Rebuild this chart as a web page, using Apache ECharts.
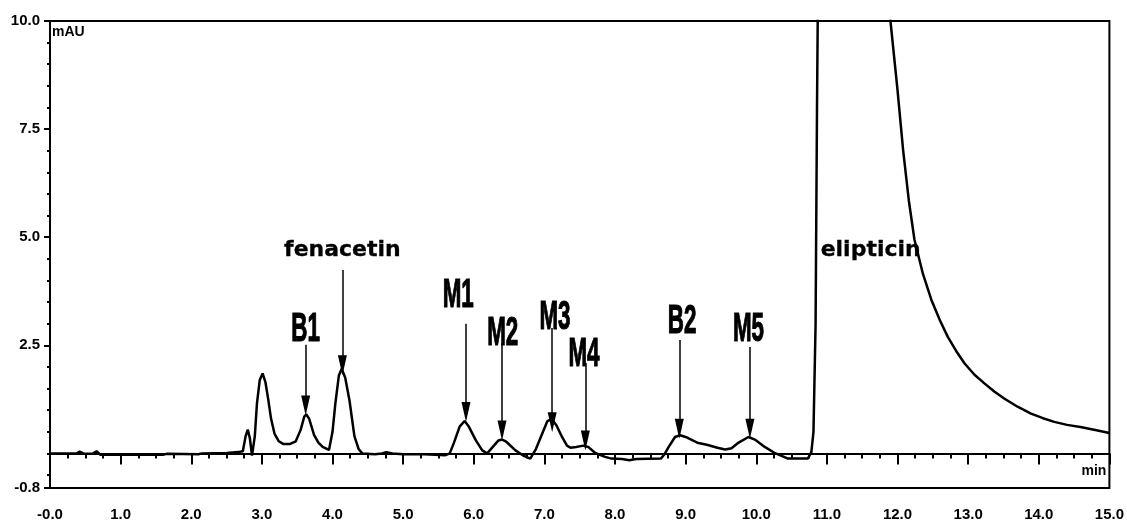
<!DOCTYPE html>
<html>
<head>
    <meta charset="utf-8"/>
    <title>chromatogram</title>
    <script src="https://cdn.jsdelivr.net/npm/echarts@6/dist/echarts.min.js"></script>
    <style>
        html, body { margin: 0; padding: 0; background: #fff; }
        #chart1 { width: 1127px; height: 524px; }
    </style>
</head>
<body>
<div id="chart1"></div>
<script type="text/javascript">
    // retention time (min) and signal (mAU)
    var times = [0.00, 0.30, 0.38, 0.42, 0.47, 0.60, 0.66, 0.71, 1.20, 1.60, 1.65, 2.10, 2.15, 2.50, 2.66,
        2.73, 2.77, 2.80, 2.83, 2.86, 2.88, 2.90, 2.93, 2.97, 3.01, 3.05, 3.09, 3.13, 3.18, 3.24, 3.30,
        3.40, 3.48, 3.55, 3.60, 3.63, 3.67, 3.74, 3.80, 3.86, 3.95, 4.00, 4.04, 4.09, 4.13, 4.18, 4.24,
        4.31, 4.37, 4.42, 4.60, 4.70, 4.76, 4.85, 5.00, 5.30, 5.60, 5.66, 5.72, 5.80, 5.87, 5.93, 6.03,
        6.12, 6.19, 6.27, 6.35, 6.40, 6.46, 6.59, 6.70, 6.80, 6.88, 6.97, 7.04, 7.10, 7.17, 7.25, 7.32,
        7.37, 7.45, 7.55, 7.62, 7.72, 7.86, 7.95, 8.10, 8.20, 8.30, 8.65, 8.70, 8.76, 8.85, 8.92, 9.00,
        9.10, 9.18, 9.30, 9.45, 9.56, 9.65, 9.75, 9.89, 9.98, 10.12, 10.25, 10.45, 10.73, 10.78, 10.81,
        10.84, 10.86, 10.88, 10.95, 11.35, 11.80, 11.90, 12.00, 12.08, 12.16, 12.24, 12.36, 12.48, 12.60,
        12.71, 12.83, 12.95, 13.09, 13.23, 13.37, 13.51, 13.70, 13.89, 14.05, 14.22, 14.40, 14.59, 14.80,
        15.00];
    var signal = [0.00, 0.00, 0.00, 0.04, 0.00, -0.01, 0.05, -0.03, -0.03, -0.03, -0.01, -0.02, 0.00, 0.01, 0.03,
        0.05, 0.40, 0.55, 0.35, -0.05, -0.09, 0.40, 1.15, 1.70, 1.85, 1.65, 1.25, 0.80, 0.45, 0.28, 0.22,
        0.22, 0.28, 0.55, 0.85, 0.90, 0.80, 0.42, 0.25, 0.15, 0.08, 0.50, 1.15, 1.80, 1.96, 1.75, 1.23,
        0.40, 0.10, 0.00, -0.02, 0.00, 0.03, 0.00, -0.02, -0.02, -0.04, 0.00, 0.25, 0.62, 0.75, 0.62, 0.30,
        0.07, 0.00, 0.15, 0.30, 0.32, 0.27, 0.07, -0.05, -0.12, 0.10, 0.46, 0.74, 0.80, 0.65, 0.38, 0.18,
        0.13, 0.15, 0.18, 0.15, 0.01, -0.08, -0.12, -0.13, -0.16, -0.13, -0.12, -0.02, 0.15, 0.38, 0.42, 0.38,
        0.30, 0.24, 0.20, 0.13, 0.09, 0.12, 0.25, 0.38, 0.32, 0.15, 0.02, -0.12, -0.12, 0.03, 0.50,
        3.00, 8.00, 12.0, 30.0, 60.0, 15.0, 10.0, 8.40, 7.00, 5.85, 4.94, 4.15, 3.55, 3.08,
        2.70, 2.37, 2.08, 1.82, 1.62, 1.43, 1.27, 1.08, 0.92, 0.82, 0.73, 0.66, 0.61, 0.54,
        0.47];

    // arrows pointing at the peaks
    var arrowX = [3.62, 4.14, 5.89, 6.40, 7.11, 7.58, 8.91, 9.91];
    var arrowTop = [2.51, 4.24, 3.00, 2.55, 2.90, 2.09, 2.62, 2.46];
    var arrowTip = [1.11, 2.04, 0.96, 0.53, 0.72, 0.30, 0.57, 0.57];

    // peak names and where their text sits
    var peakNames = ['B1', 'fenacetin', 'M1', 'M2', 'M3', 'M4', 'B2', 'M5', 'elipticin'];
    var labelX = [3.62, 4.14, 5.78, 6.41, 7.15, 7.56, 8.95, 9.89, 11.62];
    var labelY = [2.85, 4.70, 3.64, 2.76, 3.13, 2.27, 3.04, 2.85, 4.70];

    // axes
    var yLabelValues = [-0.8, 2.5, 5.0, 7.5, 10.0];
    var yMinorTicks = [-0.5, 0, 0.5, 1, 1.5, 2, 3, 3.5, 4, 4.5, 5.5, 6, 6.5, 7, 8, 8.5, 9, 9.5];

    var tickFont = '"Liberation Sans", Arial, sans-serif';
    var myChart1 = echarts.init(document.getElementById('chart1'));

    var trace = times.map(function (t, i) { return [t, signal[i]]; });
    var arrows = arrowX.map(function (x, i) {
        return [{coord: [x, arrowTop[i]]}, {coord: [x, arrowTip[i]]}];
    });

    myChart1.setOption({
        animation: false,
        backgroundColor: '#fff',
        grid: {
            left: 50, right: 15, top: 21, bottom: 36,
            show: true, borderColor: '#000', borderWidth: 2
        },
        xAxis: {
            type: 'value',
            min: 0, max: 15, interval: 1,
            axisLine: {lineStyle: {color: '#000', width: 2}},
            axisTick: {length: 11, lineStyle: {color: '#000', width: 2}},
            minorTick: {show: true, splitNumber: 4, length: 5, lineStyle: {color: '#000', width: 2}},
            splitLine: {show: false},
            axisLabel: {
                margin: 19, color: '#000', fontFamily: tickFont, fontWeight: 'bold', fontSize: 15,
                formatter: function (v) { return v === 0 ? '-0.0' : v.toFixed(1); }
            }
        },
        yAxis: [{
            type: 'value',
            min: -0.8, max: 10,
            name: 'mAU',
            nameLocation: 'end',
            nameGap: -18,
            nameTextStyle: {
                color: '#000', fontFamily: tickFont, fontWeight: 'bold', fontSize: 14,
                align: 'left', padding: [0, 0, 0, 2]
            },
            axisLine: {lineStyle: {color: '#000', width: 2}},
            axisTick: {length: 6, customValues: yLabelValues, lineStyle: {color: '#000', width: 2}},
            splitLine: {show: false},
            axisLabel: {
                margin: 10, color: '#000', fontFamily: tickFont, fontWeight: 'bold', fontSize: 15,
                customValues: yLabelValues,
                formatter: function (v) { return v.toFixed(1); }
            }
        }, {
            // minor ticks only
            type: 'value',
            min: -0.8, max: 10,
            position: 'left',
            offset: 0,
            axisLine: {show: false},
            axisTick: {show: true, length: 3, customValues: yMinorTicks, lineStyle: {color: '#000', width: 2}},
            axisLabel: {show: false},
            splitLine: {show: false}
        }],
        series: [{
            type: 'line',
            data: trace,
            showSymbol: false,
            clip: true,
            lineStyle: {color: '#000', width: 2.5},
            markLine: {
                silent: true,
                symbol: ['none', 'triangle'],
                symbolSize: [9, 20],
                label: {show: false},
                lineStyle: {color: '#000', width: 1.5, type: 'solid'},
                emphasis: {disabled: true},
                data: arrows
            }
        }]
    });

    // peak names as text, placed through the chart's own scales
    var texts = peakNames.map(function (name, i) {
        var p = myChart1.convertToPixel({seriesIndex: 0}, [labelX[i], labelY[i]]);
        var wide = name.length > 2;
        return {
            type: 'text',
            x: p[0], y: p[1],
            scaleX: wide ? 1 : 0.8,
            scaleY: wide ? 1 : 1.45,
            style: {
                text: name,
                fill: '#000',
                stroke: '#000',
                lineWidth: wide ? 0.3 : 0.8,
                font: wide ? 'bold 22px "DejaVu Sans"' : 'bold 28px "Liberation Sans"',
                align: 'center',
                verticalAlign: 'middle'
            },
            z: 100
        };
    });
    // unit of the time axis, inside the corner
    var corner = myChart1.convertToPixel({seriesIndex: 0}, [15, -0.8]);
    texts.push({
        type: 'text',
        x: corner[0] - 3, y: corner[1] - 10,
        style: {
            text: 'min', fill: '#000',
            font: 'bold 14px "Liberation Sans"',
            align: 'right', verticalAlign: 'bottom'
        },
        z: 100
    });
    myChart1.setOption({graphic: texts});
</script>
</body>
</html>
